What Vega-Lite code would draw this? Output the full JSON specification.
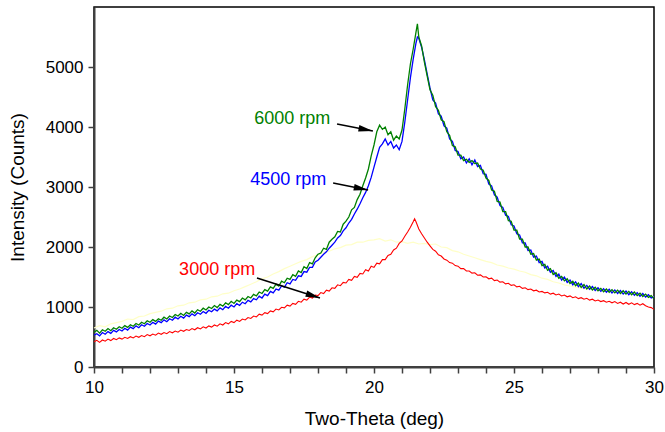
{
  "$schema": "https://vega.github.io/schema/vega-lite/v6.json",
  "width": 560,
  "height": 360,
  "autosize": "none",
  "padding": {"left": 94, "top": 7, "right": 11, "bottom": 65},
  "background": "white",
  "config": {
    "view": {"stroke": "#000000", "strokeWidth": 1.5},
    "font": "Liberation Sans",
    "axis": {
      "grid": false,
      "labelFont": "Liberation Sans",
      "titleFont": "Liberation Sans",
      "labelColor": "#000000",
      "titleColor": "#000000",
      "titleFontWeight": "normal",
      "labelFontSize": 17,
      "titleFontSize": 19,
      "domainColor": "#404040",
      "domainWidth": 2,
      "tickColor": "#404040",
      "tickWidth": 1.5
    }
  },
  "resolve": {"axis": {"x": "independent"}},
  "datasets": {
    "green": [
      {"x":10,"v":580},{"x":10.1,"v":610},{"x":10.2,"v":565},{"x":10.3,"v":620},{"x":10.4,"v":595},{"x":10.5,"v":640},{"x":10.6,"v":605},{"x":10.7,"v":655},{"x":10.8,"v":630},{"x":10.9,"v":670},
      {"x":11,"v":645},{"x":11.1,"v":690},{"x":11.2,"v":660},{"x":11.3,"v":705},{"x":11.4,"v":680},{"x":11.5,"v":725},{"x":11.6,"v":700},{"x":11.7,"v":745},{"x":11.8,"v":720},{"x":11.9,"v":770},
      {"x":12,"v":745},{"x":12.1,"v":790},{"x":12.2,"v":760},{"x":12.3,"v":805},{"x":12.4,"v":780},{"x":12.5,"v":830},{"x":12.6,"v":800},{"x":12.7,"v":850},{"x":12.8,"v":825},{"x":12.9,"v":875},
      {"x":13,"v":850},{"x":13.1,"v":895},{"x":13.2,"v":860},{"x":13.3,"v":910},{"x":13.4,"v":885},{"x":13.5,"v":935},{"x":13.6,"v":900},{"x":13.7,"v":955},{"x":13.8,"v":930},{"x":13.9,"v":980},
      {"x":14,"v":950},{"x":14.1,"v":1000},{"x":14.2,"v":975},{"x":14.3,"v":1025},{"x":14.4,"v":990},{"x":14.5,"v":1045},{"x":14.6,"v":1015},{"x":14.7,"v":1070},{"x":14.8,"v":1040},{"x":14.9,"v":1095},
      {"x":15,"v":1060},{"x":15.1,"v":1115},{"x":15.2,"v":1090},{"x":15.3,"v":1150},{"x":15.4,"v":1120},{"x":15.5,"v":1175},{"x":15.6,"v":1150},{"x":15.7,"v":1210},{"x":15.8,"v":1185},{"x":15.9,"v":1250},
      {"x":16,"v":1225},{"x":16.1,"v":1290},{"x":16.2,"v":1265},{"x":16.3,"v":1335},{"x":16.4,"v":1310},{"x":16.5,"v":1380},{"x":16.6,"v":1350},{"x":16.7,"v":1430},{"x":16.8,"v":1405},{"x":16.9,"v":1480},
      {"x":17,"v":1460},{"x":17.1,"v":1540},{"x":17.2,"v":1510},{"x":17.3,"v":1600},{"x":17.4,"v":1575},{"x":17.5,"v":1670},{"x":17.6,"v":1640},{"x":17.7,"v":1740},{"x":17.8,"v":1720},{"x":17.9,"v":1820},
      {"x":18,"v":1880},{"x":18.1,"v":1900},{"x":18.2,"v":1980},{"x":18.3,"v":1960},{"x":18.4,"v":2080},{"x":18.5,"v":2130},{"x":18.6,"v":2170},{"x":18.7,"v":2260},{"x":18.8,"v":2250},{"x":18.9,"v":2380},
      {"x":19,"v":2430},{"x":19.1,"v":2500},{"x":19.2,"v":2620},{"x":19.3,"v":2660},{"x":19.4,"v":2790},{"x":19.5,"v":2880},{"x":19.6,"v":3020},{"x":19.7,"v":3150},{"x":19.8,"v":3300},{"x":19.9,"v":3520},
      {"x":20,"v":3700},{"x":20.1,"v":3920},{"x":20.2,"v":4030},{"x":20.3,"v":3960},{"x":20.4,"v":4000},{"x":20.5,"v":3870},{"x":20.6,"v":3920},{"x":20.7,"v":3780},{"x":20.8,"v":3850},{"x":20.9,"v":3800},
      {"x":21,"v":3950},{"x":21.1,"v":4300},{"x":21.2,"v":4700},{"x":21.3,"v":5050},{"x":21.4,"v":5300},{"x":21.5,"v":5580},{"x":21.55,"v":5720},{"x":21.6,"v":5500},{"x":21.7,"v":5350},{"x":21.8,"v":5080},{"x":21.9,"v":4850},
      {"x":22,"v":4620},{"x":22.1,"v":4530},{"x":22.2,"v":4340},{"x":22.3,"v":4280},{"x":22.4,"v":4120},{"x":22.5,"v":4090},{"x":22.6,"v":3920},{"x":22.7,"v":3860},{"x":22.8,"v":3690},{"x":22.9,"v":3670},
      {"x":23,"v":3530},{"x":23.1,"v":3530},{"x":23.2,"v":3440},{"x":23.3,"v":3460},{"x":23.4,"v":3410},{"x":23.5,"v":3440},{"x":23.6,"v":3390},{"x":23.7,"v":3400},{"x":23.8,"v":3300},{"x":23.9,"v":3280},
      {"x":24,"v":3150},{"x":24.1,"v":3110},{"x":24.2,"v":2950},{"x":24.3,"v":2930},{"x":24.4,"v":2760},{"x":24.5,"v":2750},{"x":24.6,"v":2590},{"x":24.7,"v":2590},{"x":24.8,"v":2440},{"x":24.9,"v":2430},
      {"x":25,"v":2280},{"x":25.1,"v":2280},{"x":25.2,"v":2130},{"x":25.3,"v":2130},{"x":25.4,"v":2000},{"x":25.5,"v":2000},{"x":25.6,"v":1880},{"x":25.7,"v":1890},{"x":25.8,"v":1780},{"x":25.9,"v":1800},
      {"x":26,"v":1690},{"x":26.1,"v":1710},{"x":26.2,"v":1610},{"x":26.3,"v":1640},{"x":26.4,"v":1540},{"x":26.5,"v":1570},{"x":26.6,"v":1480},{"x":26.7,"v":1510},{"x":26.8,"v":1435},{"x":26.9,"v":1470},
      {"x":27,"v":1390},{"x":27.1,"v":1430},{"x":27.2,"v":1355},{"x":27.3,"v":1400},{"x":27.4,"v":1325},{"x":27.5,"v":1375},{"x":27.6,"v":1300},{"x":27.7,"v":1350},{"x":27.8,"v":1285},{"x":27.9,"v":1330},
      {"x":28,"v":1270},{"x":28.1,"v":1310},{"x":28.2,"v":1255},{"x":28.3,"v":1300},{"x":28.4,"v":1245},{"x":28.5,"v":1290},{"x":28.6,"v":1235},{"x":28.7,"v":1280},{"x":28.8,"v":1225},{"x":28.9,"v":1270},
      {"x":29,"v":1215},{"x":29.1,"v":1260},{"x":29.2,"v":1205},{"x":29.3,"v":1250},{"x":29.4,"v":1190},{"x":29.5,"v":1230},{"x":29.6,"v":1175},{"x":29.7,"v":1215},{"x":29.8,"v":1160},{"x":29.9,"v":1190},{"x":30,"v":1140}
    ],
    "blue": [
      {"x":10,"v":530},{"x":10.1,"v":555},{"x":10.2,"v":520},{"x":10.3,"v":575},{"x":10.4,"v":545},{"x":10.5,"v":590},{"x":10.6,"v":560},{"x":10.7,"v":610},{"x":10.8,"v":585},{"x":10.9,"v":625},
      {"x":11,"v":600},{"x":11.1,"v":645},{"x":11.2,"v":615},{"x":11.3,"v":665},{"x":11.4,"v":640},{"x":11.5,"v":685},{"x":11.6,"v":655},{"x":11.7,"v":705},{"x":11.8,"v":680},{"x":11.9,"v":725},
      {"x":12,"v":700},{"x":12.1,"v":745},{"x":12.2,"v":715},{"x":12.3,"v":765},{"x":12.4,"v":740},{"x":12.5,"v":785},{"x":12.6,"v":755},{"x":12.7,"v":805},{"x":12.8,"v":780},{"x":12.9,"v":830},
      {"x":13,"v":800},{"x":13.1,"v":845},{"x":13.2,"v":815},{"x":13.3,"v":865},{"x":13.4,"v":840},{"x":13.5,"v":885},{"x":13.6,"v":855},{"x":13.7,"v":905},{"x":13.8,"v":880},{"x":13.9,"v":925},
      {"x":14,"v":895},{"x":14.1,"v":945},{"x":14.2,"v":920},{"x":14.3,"v":965},{"x":14.4,"v":935},{"x":14.5,"v":985},{"x":14.6,"v":955},{"x":14.7,"v":1010},{"x":14.8,"v":980},{"x":14.9,"v":1030},
      {"x":15,"v":1000},{"x":15.1,"v":1055},{"x":15.2,"v":1025},{"x":15.3,"v":1080},{"x":15.4,"v":1055},{"x":15.5,"v":1110},{"x":15.6,"v":1085},{"x":15.7,"v":1140},{"x":15.8,"v":1120},{"x":15.9,"v":1180},
      {"x":16,"v":1150},{"x":16.1,"v":1215},{"x":16.2,"v":1190},{"x":16.3,"v":1260},{"x":16.4,"v":1235},{"x":16.5,"v":1300},{"x":16.6,"v":1280},{"x":16.7,"v":1350},{"x":16.8,"v":1330},{"x":16.9,"v":1405},
      {"x":17,"v":1385},{"x":17.1,"v":1460},{"x":17.2,"v":1445},{"x":17.3,"v":1520},{"x":17.4,"v":1510},{"x":17.5,"v":1590},{"x":17.6,"v":1580},{"x":17.7,"v":1660},{"x":17.8,"v":1660},{"x":17.9,"v":1750},
      {"x":18,"v":1780},{"x":18.1,"v":1830},{"x":18.2,"v":1880},{"x":18.3,"v":1920},{"x":18.4,"v":1980},{"x":18.5,"v":2030},{"x":18.6,"v":2080},{"x":18.7,"v":2150},{"x":18.8,"v":2190},{"x":18.9,"v":2270},
      {"x":19,"v":2320},{"x":19.1,"v":2400},{"x":19.2,"v":2460},{"x":19.3,"v":2550},{"x":19.4,"v":2630},{"x":19.5,"v":2720},{"x":19.6,"v":2820},{"x":19.7,"v":2910},{"x":19.8,"v":3020},{"x":19.9,"v":3160},
      {"x":20,"v":3330},{"x":20.1,"v":3500},{"x":20.2,"v":3660},{"x":20.3,"v":3720},{"x":20.4,"v":3800},{"x":20.5,"v":3700},{"x":20.6,"v":3760},{"x":20.7,"v":3650},{"x":20.8,"v":3700},{"x":20.9,"v":3620},
      {"x":21,"v":3760},{"x":21.1,"v":4080},{"x":21.2,"v":4450},{"x":21.3,"v":4820},{"x":21.4,"v":5130},{"x":21.5,"v":5400},{"x":21.55,"v":5500},{"x":21.6,"v":5480},{"x":21.7,"v":5330},{"x":21.8,"v":5120},{"x":21.9,"v":4880},
      {"x":22,"v":4650},{"x":22.1,"v":4450},{"x":22.2,"v":4400},{"x":22.3,"v":4220},{"x":22.4,"v":4180},{"x":22.5,"v":4020},{"x":22.6,"v":3980},{"x":22.7,"v":3800},{"x":22.8,"v":3760},{"x":22.9,"v":3610},
      {"x":23,"v":3590},{"x":23.1,"v":3470},{"x":23.2,"v":3500},{"x":23.3,"v":3400},{"x":23.4,"v":3470},{"x":23.5,"v":3370},{"x":23.6,"v":3450},{"x":23.7,"v":3340},{"x":23.8,"v":3360},{"x":23.9,"v":3220},
      {"x":24,"v":3210},{"x":24.1,"v":3050},{"x":24.2,"v":3020},{"x":24.3,"v":2870},{"x":24.4,"v":2830},{"x":24.5,"v":2690},{"x":24.6,"v":2660},{"x":24.7,"v":2530},{"x":24.8,"v":2510},{"x":24.9,"v":2370},
      {"x":25,"v":2350},{"x":25.1,"v":2220},{"x":25.2,"v":2200},{"x":25.3,"v":2070},{"x":25.4,"v":2070},{"x":25.5,"v":1940},{"x":25.6,"v":1950},{"x":25.7,"v":1830},{"x":25.8,"v":1850},{"x":25.9,"v":1740},
      {"x":26,"v":1760},{"x":26.1,"v":1650},{"x":26.2,"v":1680},{"x":26.3,"v":1580},{"x":26.4,"v":1610},{"x":26.5,"v":1510},{"x":26.6,"v":1550},{"x":26.7,"v":1450},{"x":26.8,"v":1500},{"x":26.9,"v":1410},
      {"x":27,"v":1450},{"x":27.1,"v":1370},{"x":27.2,"v":1420},{"x":27.3,"v":1340},{"x":27.4,"v":1390},{"x":27.5,"v":1315},{"x":27.6,"v":1360},{"x":27.7,"v":1295},{"x":27.8,"v":1340},{"x":27.9,"v":1275},
      {"x":28,"v":1320},{"x":28.1,"v":1260},{"x":28.2,"v":1305},{"x":28.3,"v":1245},{"x":28.4,"v":1295},{"x":28.5,"v":1235},{"x":28.6,"v":1285},{"x":28.7,"v":1225},{"x":28.8,"v":1275},{"x":28.9,"v":1215},
      {"x":29,"v":1265},{"x":29.1,"v":1205},{"x":29.2,"v":1255},{"x":29.3,"v":1195},{"x":29.4,"v":1240},{"x":29.5,"v":1180},{"x":29.6,"v":1225},{"x":29.7,"v":1165},{"x":29.8,"v":1205},{"x":29.9,"v":1150},{"x":30,"v":1170}
    ],
    "red": [
      {"x":10,"v":420},{"x":10.1,"v":445},{"x":10.2,"v":410},{"x":10.3,"v":450},{"x":10.4,"v":430},{"x":10.5,"v":465},{"x":10.6,"v":440},{"x":10.7,"v":475},{"x":10.8,"v":455},{"x":10.9,"v":485},
      {"x":11,"v":465},{"x":11.1,"v":495},{"x":11.2,"v":475},{"x":11.3,"v":505},{"x":11.4,"v":485},{"x":11.5,"v":515},{"x":11.6,"v":495},{"x":11.7,"v":525},{"x":11.8,"v":505},{"x":11.9,"v":540},
      {"x":12,"v":520},{"x":12.1,"v":550},{"x":12.2,"v":530},{"x":12.3,"v":565},{"x":12.4,"v":545},{"x":12.5,"v":575},{"x":12.6,"v":555},{"x":12.7,"v":590},{"x":12.8,"v":570},{"x":12.9,"v":600},
      {"x":13,"v":580},{"x":13.1,"v":615},{"x":13.2,"v":595},{"x":13.3,"v":625},{"x":13.4,"v":610},{"x":13.5,"v":640},{"x":13.6,"v":620},{"x":13.7,"v":655},{"x":13.8,"v":635},{"x":13.9,"v":670},
      {"x":14,"v":650},{"x":14.1,"v":685},{"x":14.2,"v":665},{"x":14.3,"v":700},{"x":14.4,"v":680},{"x":14.5,"v":720},{"x":14.6,"v":700},{"x":14.7,"v":740},{"x":14.8,"v":720},{"x":14.9,"v":760},
      {"x":15,"v":740},{"x":15.1,"v":780},{"x":15.2,"v":760},{"x":15.3,"v":800},{"x":15.4,"v":785},{"x":15.5,"v":825},{"x":15.6,"v":810},{"x":15.7,"v":850},{"x":15.8,"v":835},{"x":15.9,"v":880},
      {"x":16,"v":865},{"x":16.1,"v":905},{"x":16.2,"v":890},{"x":16.3,"v":935},{"x":16.4,"v":920},{"x":16.5,"v":965},{"x":16.6,"v":950},{"x":16.7,"v":995},{"x":16.8,"v":985},{"x":16.9,"v":1030},
      {"x":17,"v":1015},{"x":17.1,"v":1060},{"x":17.2,"v":1045},{"x":17.3,"v":1095},{"x":17.4,"v":1080},{"x":17.5,"v":1130},{"x":17.6,"v":1115},{"x":17.7,"v":1165},{"x":17.8,"v":1150},{"x":17.9,"v":1200},
      {"x":18,"v":1190},{"x":18.1,"v":1240},{"x":18.2,"v":1225},{"x":18.3,"v":1280},{"x":18.4,"v":1265},{"x":18.5,"v":1320},{"x":18.6,"v":1310},{"x":18.7,"v":1370},{"x":18.8,"v":1355},{"x":18.9,"v":1410},
      {"x":19,"v":1400},{"x":19.1,"v":1460},{"x":19.2,"v":1445},{"x":19.3,"v":1510},{"x":19.4,"v":1495},{"x":19.5,"v":1560},{"x":19.6,"v":1550},{"x":19.7,"v":1620},{"x":19.8,"v":1600},{"x":19.9,"v":1680},
      {"x":20,"v":1660},{"x":20.1,"v":1730},{"x":20.2,"v":1720},{"x":20.3,"v":1790},{"x":20.4,"v":1790},{"x":20.5,"v":1860},{"x":20.6,"v":1880},{"x":20.7,"v":1950},{"x":20.8,"v":1980},{"x":20.9,"v":2060},
      {"x":21,"v":2100},{"x":21.1,"v":2180},{"x":21.2,"v":2250},{"x":21.3,"v":2330},{"x":21.4,"v":2420},{"x":21.45,"v":2470},{"x":21.5,"v":2420},{"x":21.6,"v":2300},{"x":21.7,"v":2220},{"x":21.8,"v":2150},{"x":21.9,"v":2080},
      {"x":22,"v":2020},{"x":22.1,"v":1960},{"x":22.2,"v":1930},{"x":22.3,"v":1870},{"x":22.4,"v":1850},{"x":22.5,"v":1800},{"x":22.6,"v":1780},{"x":22.7,"v":1740},{"x":22.8,"v":1730},{"x":22.9,"v":1690},
      {"x":23,"v":1680},{"x":23.1,"v":1640},{"x":23.2,"v":1640},{"x":23.3,"v":1600},{"x":23.4,"v":1600},{"x":23.5,"v":1565},{"x":23.6,"v":1570},{"x":23.7,"v":1530},{"x":23.8,"v":1535},{"x":23.9,"v":1500},
      {"x":24,"v":1505},{"x":24.1,"v":1470},{"x":24.2,"v":1480},{"x":24.3,"v":1440},{"x":24.4,"v":1450},{"x":24.5,"v":1415},{"x":24.6,"v":1420},{"x":24.7,"v":1385},{"x":24.8,"v":1395},{"x":24.9,"v":1360},
      {"x":25,"v":1370},{"x":25.1,"v":1335},{"x":25.2,"v":1345},{"x":25.3,"v":1310},{"x":25.4,"v":1320},{"x":25.5,"v":1290},{"x":25.6,"v":1300},{"x":25.7,"v":1270},{"x":25.8,"v":1280},{"x":25.9,"v":1250},
      {"x":26,"v":1260},{"x":26.1,"v":1235},{"x":26.2,"v":1245},{"x":26.3,"v":1215},{"x":26.4,"v":1230},{"x":26.5,"v":1200},{"x":26.6,"v":1215},{"x":26.7,"v":1185},{"x":26.8,"v":1200},{"x":26.9,"v":1170},
      {"x":27,"v":1185},{"x":27.1,"v":1155},{"x":27.2,"v":1170},{"x":27.3,"v":1140},{"x":27.4,"v":1155},{"x":27.5,"v":1130},{"x":27.6,"v":1145},{"x":27.7,"v":1115},{"x":27.8,"v":1130},{"x":27.9,"v":1100},
      {"x":28,"v":1115},{"x":28.1,"v":1090},{"x":28.2,"v":1105},{"x":28.3,"v":1080},{"x":28.4,"v":1095},{"x":28.5,"v":1070},{"x":28.6,"v":1090},{"x":28.7,"v":1060},{"x":28.8,"v":1080},{"x":28.9,"v":1050},
      {"x":29,"v":1075},{"x":29.1,"v":1045},{"x":29.2,"v":1070},{"x":29.3,"v":1040},{"x":29.4,"v":1060},{"x":29.5,"v":1030},{"x":29.6,"v":1055},{"x":29.7,"v":1020},{"x":29.8,"v":1000},{"x":29.9,"v":990},{"x":30,"v":960}
    ],
    "yellow": [
      {"x":10,"v":650},{"x":10.2,"v":690},{"x":10.4,"v":670},{"x":10.6,"v":720},{"x":10.8,"v":740},{"x":11,"v":760},{"x":11.2,"v":800},{"x":11.4,"v":790},{"x":11.6,"v":840},{"x":11.8,"v":850},
      {"x":12,"v":890},{"x":12.2,"v":910},{"x":12.4,"v":930},{"x":12.6,"v":970},{"x":12.8,"v":980},{"x":13,"v":1020},{"x":13.2,"v":1030},{"x":13.4,"v":1070},{"x":13.6,"v":1080},{"x":13.8,"v":1120},
      {"x":14,"v":1130},{"x":14.2,"v":1170},{"x":14.4,"v":1180},{"x":14.6,"v":1220},{"x":14.8,"v":1230},{"x":15,"v":1270},{"x":15.2,"v":1300},{"x":15.4,"v":1340},{"x":15.6,"v":1380},{"x":15.8,"v":1420},
      {"x":16,"v":1470},{"x":16.2,"v":1500},{"x":16.4,"v":1550},{"x":16.6,"v":1590},{"x":16.8,"v":1640},{"x":17,"v":1680},{"x":17.2,"v":1720},{"x":17.4,"v":1760},{"x":17.6,"v":1790},{"x":17.8,"v":1840},
      {"x":18,"v":1870},{"x":18.2,"v":1910},{"x":18.4,"v":1930},{"x":18.6,"v":1970},{"x":18.8,"v":1990},{"x":19,"v":2030},{"x":19.2,"v":2040},{"x":19.4,"v":2080},{"x":19.6,"v":2080},{"x":19.8,"v":2110},
      {"x":20,"v":2120},{"x":20.2,"v":2140},{"x":20.4,"v":2100},{"x":20.6,"v":2120},{"x":20.8,"v":2080},{"x":21,"v":2090},{"x":21.2,"v":2060},{"x":21.4,"v":2080},{"x":21.6,"v":2050},{"x":21.8,"v":2060},
      {"x":22,"v":2040},{"x":22.2,"v":2050},{"x":22.4,"v":2000},{"x":22.6,"v":1990},{"x":22.8,"v":1940},{"x":23,"v":1920},{"x":23.2,"v":1880},{"x":23.4,"v":1850},{"x":23.6,"v":1820},{"x":23.8,"v":1790},
      {"x":24,"v":1760},{"x":24.2,"v":1740},{"x":24.4,"v":1700},{"x":24.6,"v":1680},{"x":24.8,"v":1650},{"x":25,"v":1630},{"x":25.2,"v":1600},{"x":25.4,"v":1580},{"x":25.6,"v":1540},{"x":25.8,"v":1520},
      {"x":26,"v":1480},{"x":26.2,"v":1460},{"x":26.4,"v":1420},{"x":26.6,"v":1400},{"x":26.8,"v":1370},{"x":27,"v":1350},{"x":27.2,"v":1330},{"x":27.4,"v":1320},{"x":27.6,"v":1300},{"x":27.8,"v":1290},
      {"x":28,"v":1280},{"x":28.4,"v":1260},{"x":28.8,"v":1240},{"x":29.2,"v":1220},{"x":29.6,"v":1200},{"x":30,"v":1170}
    ],
    "labels": [
      {"s":"6000 rpm","x":15.72,"v":4133},
      {"s":"4500 rpm","x":15.58,"v":3117},
      {"s":"3000 rpm","x":13.04,"v":1617}
    ],
    "arrows": [
      {"s":"6000 rpm","x":18.68,"v":4050,"x2":19.96,"v2":3933},
      {"s":"4500 rpm","x":18.54,"v":3067,"x2":19.79,"v2":2950},
      {"s":"3000 rpm","x":15.82,"v":1483,"x2":18.07,"v2":1150}
    ]
  },
  "layer": [
    {
      "data": {"name": "yellow"},
      "mark": {"type": "line", "color": "#ffffc8", "strokeWidth": 1.2},
      "encoding": {
        "x": {"field": "x", "type": "quantitative", "scale": {"domain": [10, 30], "nice": false},
          "axis": {"title": "Two-Theta (deg)", "orient": "bottom", "values": [10,15,20,25,30],
            "labelOverlap": false, "tickSize": 6, "labelPadding": 6, "titlePadding": 14, "labelFlush": false}},
        "y": {"field": "v", "type": "quantitative", "scale": {"domain": [0, 6000], "nice": false},
          "axis": {"title": "Intensity (Counts)", "format": "d", "values": [0,1000,2000,3000,4000,5000], "tickSize": 6, "labelPadding": 5, "titlePadding": 18}}
      }
    },
    {
      "data": {"name": "red"},
      "mark": {"type": "line", "color": "#ff0000", "strokeWidth": 1.1},
      "encoding": {
        "x": {"field": "x", "type": "quantitative",
          "axis": {"title": null, "orient": "bottom", "values": [11,12,13,14,16,17,18,19,21,22,23,24,26,27,28,29], "labels": false, "domain": false, "tickSize": 6}},
        "y": {"field": "v", "type": "quantitative"}
      }
    },
    {
      "data": {"name": "blue"},
      "mark": {"type": "line", "color": "#0000ff", "strokeWidth": 1.3},
      "encoding": {"x": {"field": "x", "type": "quantitative", "axis": null}, "y": {"field": "v", "type": "quantitative"}}
    },
    {
      "data": {"name": "green"},
      "mark": {"type": "line", "color": "#008000", "strokeWidth": 1.3},
      "encoding": {"x": {"field": "x", "type": "quantitative", "axis": null}, "y": {"field": "v", "type": "quantitative"}}
    },
    {
      "data": {"name": "arrows"},
      "mark": {"type": "rule", "color": "#000000", "strokeWidth": 1.5},
      "encoding": {
        "x": {"field": "x", "type": "quantitative", "axis": null}, "y": {"field": "v", "type": "quantitative"},
        "x2": {"field": "x2"}, "y2": {"field": "v2"}
      }
    },
    {
      "data": {"name": "arrows"},
      "transform": [{"filter": "datum.s !== '3000 rpm'"}],
      "mark": {"type": "point", "shape": "M0,0L-2.4,-0.55L-2.4,0.55Z", "filled": true, "color": "#000000", "opacity": 1, "size": 144, "angle": 11},
      "encoding": {"x": {"field": "x2", "type": "quantitative", "axis": null}, "y": {"field": "v2", "type": "quantitative"}}
    },
    {
      "data": {"name": "arrows"},
      "transform": [{"filter": "datum.s === '3000 rpm'"}],
      "mark": {"type": "point", "shape": "M0,0L-2.4,-0.55L-2.4,0.55Z", "filled": true, "color": "#000000", "opacity": 1, "size": 144, "angle": 17.6},
      "encoding": {"x": {"field": "x2", "type": "quantitative", "axis": null}, "y": {"field": "v2", "type": "quantitative"}}
    },
    {
      "data": {"name": "labels"},
      "mark": {"type": "text", "align": "left", "baseline": "middle", "fontSize": 18, "font": "Liberation Sans"},
      "encoding": {
        "x": {"field": "x", "type": "quantitative", "axis": null}, "y": {"field": "v", "type": "quantitative"},
        "text": {"field": "s"},
        "color": {"field": "s", "type": "nominal", "legend": null,
          "scale": {"domain": ["6000 rpm", "4500 rpm", "3000 rpm"], "range": ["#008000", "#0000ff", "#ff0000"]}}
      }
    }
  ]
}
